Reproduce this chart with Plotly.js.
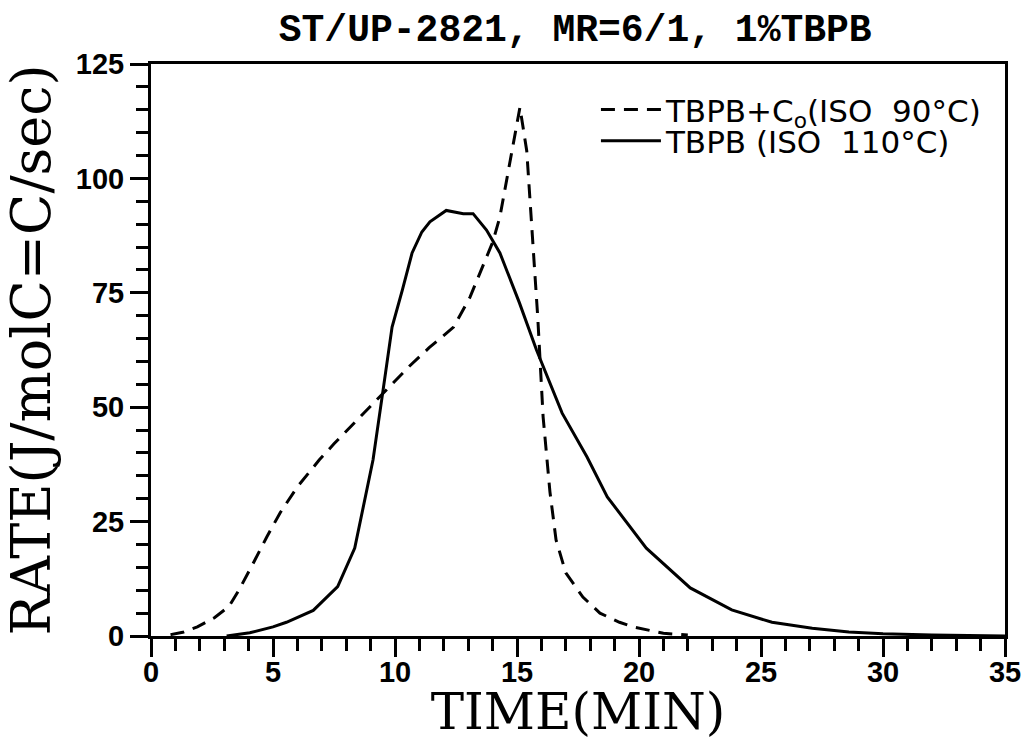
<!DOCTYPE html>
<html>
<head>
<meta charset="utf-8">
<script src="https://cdn.plot.ly/plotly-3.0.1.min.js"></script>
<style>
html,body{margin:0;padding:0;background:#fff;}
#chart{width:1029px;height:741px;}
</style>
</head>
<body>
<div id="chart"></div>
<script>
// TBPB + Co, isothermal 90 °C (dashed)
const timeCo = [0.8, 1.3, 1.9, 2.6, 3.2, 3.6, 4.2, 4.75, 5.3, 6.0, 6.9, 7.5, 8.5, 9.4, 10.6, 11.4, 12.4, 13.07, 13.5, 14.0, 14.3, 14.7, 15.12, 15.4, 15.66, 15.85, 16.07, 16.35, 16.6, 17.0, 17.7, 18.4, 19.2, 19.75, 21.0, 22.0];
const rateCo = [0.3, 0.8, 2.0, 4.0, 6.5, 10.0, 16.0, 21.7, 27.0, 32.6, 38.5, 42.0, 47.5, 52.5, 59.0, 63.0, 67.5, 74.0, 79.5, 86.0, 91.6, 103.0, 115.5, 106.0, 84.0, 69.7, 47.9, 31.5, 21.0, 13.8, 8.5, 5.0, 3.0, 2.0, 0.6, 0.2];

// TBPB, isothermal 110 °C (solid)
const timeT = [3.1, 4.05, 5.0, 5.55, 6.65, 7.65, 8.35, 8.77, 9.1, 9.47, 9.88, 10.3, 10.7, 11.1, 11.43, 12.1, 12.8, 13.2, 13.75, 14.3, 15.1, 15.8, 16.85, 17.87, 18.7, 20.3, 22.1, 23.8, 25.45, 27.1, 28.6, 30.0, 32.0, 35.0];
const rateT = [0.0, 0.7, 2.0, 3.0, 5.6, 10.8, 19.2, 30.4, 38.5, 52.2, 67.5, 75.6, 83.7, 88.3, 90.5, 93.0, 92.3, 92.3, 88.7, 83.7, 72.8, 62.5, 48.7, 39.1, 30.4, 19.2, 10.5, 5.7, 3.0, 1.7, 0.9, 0.5, 0.2, 0.0];

const seriesNames = ["TBPB+C<sub>o</sub>(ISO\u00a0\u00a090°C)", "TBPB\u00a0(ISO\u00a0\u00a0110°C)"];
const chartTitle = "ST/UP-2821, MR=6/1, 1%TBPB";
const xTitle = "TIME(MIN)";
const yTitle = "RATE(J/molC=C/sec)";
const xTicks = [0, 5, 10, 15, 20, 25, 30, 35];
const yTicks = [0, 25, 50, 75, 100, 125];

const traces = [
  {x: timeCo, y: rateCo, name: seriesNames[0], mode: "lines", legend: "legend",
   line: {color: "#000", width: 3, dash: "14px,9px"}},
  {x: timeT, y: rateT, name: seriesNames[1], mode: "lines", legend: "legend2",
   line: {color: "#000", width: 3}}
];

const tickFont = {family: "'Liberation Sans', Arial, sans-serif", size: 29, color: "#000", weight: "bold"};
const serif = "'DejaVu Serif', 'Liberation Serif', serif";
const legendFont = {family: "'DejaVu Sans', 'Liberation Sans', sans-serif", size: 31, color: "#000"};

function legendAt(y) {
  return {
    x: 0.521, y: y, xanchor: "left", yanchor: "middle",
    bgcolor: "rgba(0,0,0,0)", borderwidth: 0, font: legendFont,
    itemwidth: 60
  };
}

const layout = {
  width: 1029, height: 741,
  margin: {l: 151, r: 24, t: 64, b: 105},
  paper_bgcolor: "#fff", plot_bgcolor: "#fff",
  showlegend: true,
  legend: legendAt(0.92),
  legend2: legendAt(0.865),
  title: {
    text: chartTitle,
    font: {family: "'Liberation Mono', 'Courier New', monospace", size: 38, color: "#000", weight: "bold"},
    x: 0.559, xanchor: "center", y: 0.962, yanchor: "middle", yref: "container"
  },
  xaxis: {
    range: [0, 35], tickvals: xTicks, ticktext: xTicks.map(String),
    ticks: "outside", ticklen: 18, tickwidth: 3, tickcolor: "#000",
    minor: {dtick: 1, ticks: "outside", ticklen: 12, tickwidth: 3, tickcolor: "#000", showgrid: false},
    showline: true, linewidth: 3, linecolor: "#000", mirror: true,
    showgrid: false, zeroline: false,
    tickfont: tickFont, ticklabelstandoff: -10,
    title: {text: xTitle, font: {family: serif, size: 50, color: "#000"}, standoff: 7}
  },
  yaxis: {
    range: [0, 125], tickvals: yTicks, ticktext: yTicks.map(String),
    ticks: "outside", ticklen: 18, tickwidth: 3, tickcolor: "#000",
    minor: {dtick: 5, ticks: "outside", ticklen: 12, tickwidth: 3, tickcolor: "#000", showgrid: false},
    showline: true, linewidth: 3, linecolor: "#000", mirror: true,
    showgrid: false, zeroline: false,
    tickfont: tickFont,
    title: {text: yTitle, font: {family: serif, size: 54, color: "#000"}, standoff: 8}
  }
};

Plotly.newPlot("chart", traces, layout, {displayModeBar: false, staticPlot: true});
</script>
</body>
</html>
